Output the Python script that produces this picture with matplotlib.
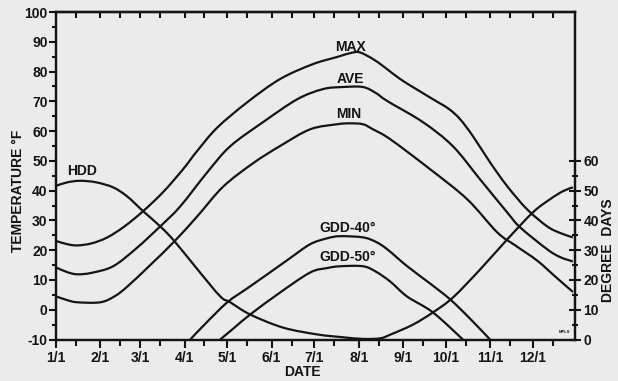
import matplotlib
matplotlib.use("Agg")
import matplotlib.pyplot as plt
from matplotlib.path import Path
from matplotlib.patches import PathPatch

plt.rcParams['font.family'] = ['Liberation Sans', 'DejaVu Sans']
plt.rcParams['font.weight'] = 'bold'

# ---------------- data ----------------
month_days = [0, 31, 59, 90, 120, 151, 181, 212, 243, 273, 304, 334]
month_labels = ['1/1', '2/1', '3/1', '4/1', '5/1', '6/1', '7/1', '8/1', '9/1', '10/1', '11/1', '12/1']
mid_month_days = [14, 45, 73, 104, 134, 165, 195, 226, 257, 287, 318, 348]

max_days = [0, 8, 15, 25, 36, 48, 61, 75, 89, 99, 113, 134, 157, 180, 197, 207, 213, 222, 230, 241, 252, 264, 275, 283, 292, 304, 316, 330, 344, 353, 362]
max_temp = [23.1, 22.0, 21.6, 22.3, 24.3, 28.0, 33.1, 39.5, 47.2, 53.4, 61.2, 69.7, 77.5, 82.5, 84.9, 86.3, 86.4, 84.2, 81.5, 77.5, 74.2, 70.7, 67.5, 64.0, 58.3, 49.5, 41.5, 33.7, 28.0, 25.8, 24.3]

ave_days = [0, 8, 15, 25, 40, 56, 73, 87, 106, 122, 145, 169, 187, 201, 215, 224, 232, 257, 278, 297, 316, 325, 344, 353, 362]
ave_temp = [14.2, 12.6, 11.9, 12.4, 14.6, 20.5, 28.0, 34.7, 46.2, 54.9, 63.0, 70.7, 74.1, 74.8, 74.8, 72.8, 70.1, 63.0, 54.9, 43.8, 32.7, 27.7, 20.3, 17.7, 16.2]

min_days = [0, 8, 15, 31, 41, 50, 66, 83, 99, 117, 138, 157, 178, 197, 206, 215, 222, 234, 262, 288, 309, 322, 337, 350, 362]
min_temp = [4.5, 3.2, 2.5, 2.5, 4.5, 7.8, 15.0, 23.0, 31.4, 41.3, 49.2, 55.0, 60.6, 62.3, 62.6, 62.3, 60.6, 57.3, 47.2, 37.1, 26.0, 21.5, 16.5, 11.0, 6.0]

hdd_days = [0, 8, 17, 28, 40, 50, 61, 73, 83, 99, 115, 122, 136, 159, 183, 200, 215, 227, 234, 250, 264, 278, 297, 316, 334, 346, 355, 362]
hdd_vals = [51.6, 52.8, 53.3, 52.8, 51.1, 48.0, 43.1, 38.0, 33.0, 23.6, 14.5, 12.5, 8.4, 4.0, 1.7, 0.8, 0.2, 0.4, 1.6, 5.0, 9.1, 14.1, 23.5, 33.6, 42.7, 47.1, 49.8, 51.1]

gdd40_days = [94, 105, 120, 134, 148, 163, 178, 190, 199, 215, 224, 232, 246, 262, 276, 290, 304]
gdd40_vals = [0, 5.5, 12.5, 17.2, 21.9, 27.0, 32.0, 34.0, 34.7, 34.3, 32.8, 30.3, 24.6, 18.8, 13.5, 7.0, 0]

gdd50_days = [115, 125, 136, 157, 178, 190, 199, 215, 224, 234, 246, 264, 285]
gdd50_vals = [0, 4.0, 8.4, 15.8, 22.5, 24.0, 24.6, 24.6, 22.8, 19.5, 14.4, 9.1, 0]

left_ticks = [-10, 0, 10, 20, 30, 40, 50, 60, 70, 80, 90, 100]
right_ticks = [0, 10, 20, 30, 40, 50, 60]

# ---------------- figure ----------------
W, H = 618, 381
bg = '#ebebeb'
ink = '#141414'
fig = plt.figure(figsize=(W / 100, H / 100), dpi=100, facecolor=bg)
ax = fig.add_axes([56 / W, 1 - 339.5 / H, (575 - 56) / W, (339.5 - 12) / H])
ax.set_facecolor(bg)
ax.set_xlim(0, 363.5)
ax.set_ylim(-10, 100)

ax2 = ax.twinx()
ax2.set_ylim(0, 110)

lw = 1.6


def smooth_curve(a, xs, ys):
    """Draw a smooth (Catmull-Rom rendered as Bezier) curve through the data points."""
    pts = list(zip(xs, ys))
    verts = [pts[0]]
    codes = [Path.MOVETO]
    n = len(pts)
    for i in range(n - 1):
        p0 = pts[i - 1] if i > 0 else pts[i]
        p1 = pts[i]
        p2 = pts[i + 1]
        p3 = pts[i + 2] if i + 2 < n else pts[i + 1]
        c1 = (p1[0] + (p2[0] - p0[0]) / 6.0, p1[1] + (p2[1] - p0[1]) / 6.0)
        c2 = (p2[0] - (p3[0] - p1[0]) / 6.0, p2[1] - (p3[1] - p1[1]) / 6.0)
        verts += [c1, c2, p2]
        codes += [Path.CURVE4, Path.CURVE4, Path.CURVE4]
    patch = PathPatch(Path(verts, codes), facecolor='none', edgecolor=ink, lw=lw,
                      transform=a.transData, capstyle='butt', joinstyle='round')
    a.add_patch(patch)


smooth_curve(ax, max_days, max_temp)
smooth_curve(ax, ave_days, ave_temp)
smooth_curve(ax, min_days, min_temp)
smooth_curve(ax2, hdd_days, hdd_vals)
smooth_curve(ax2, gdd40_days, gdd40_vals)
smooth_curve(ax2, gdd50_days, gdd50_vals)

for a in (ax, ax2):
    for s in a.spines.values():
        s.set_linewidth(1.6)
        s.set_color(ink)

fs = 10
# x ticks (bottom)
ax.set_xticks(month_days)
ax.set_xticklabels(month_labels, fontsize=fs, fontweight='bold')
ax.set_xticks(mid_month_days, minor=True)
ax.tick_params(axis='x', which='major', direction='out', length=6, width=1.5, pad=2, colors=ink)
ax.tick_params(axis='x', which='minor', direction='out', length=4, width=1.5, colors=ink)

# top ticks (inward)
sec = ax.secondary_xaxis('top')
sec.set_xticks(sorted(month_days[1:] + mid_month_days))
sec.tick_params(direction='in', length=4, width=1.5, labeltop=False, colors=ink)
sec.spines['top'].set_linewidth(1.6)

# left y ticks
ax.set_yticks(left_ticks)
ax.set_yticklabels([str(v) for v in left_ticks], fontsize=fs, fontweight='bold')
ax.set_yticks([v + 5 for v in left_ticks[:-1]], minor=True)
ax.tick_params(axis='y', which='major', direction='out', length=5, width=1.5, pad=1, colors=ink)
ax.tick_params(axis='y', which='minor', direction='out', length=3, width=1.5, colors=ink)

# right y ticks
ax2.set_yticks(right_ticks)
ax2.set_yticklabels([str(v) for v in right_ticks], fontsize=fs, fontweight='bold')
ax2.set_yticks([v + 5 for v in right_ticks[:-1]], minor=True)
ax2.tick_params(axis='y', which='major', direction='inout', length=8, width=1.5, pad=2, colors=ink)
ax2.tick_params(axis='y', which='minor', direction='inout', length=5, width=1.5, colors=ink)

# curve labels
tk = dict(fontsize=fs, fontweight='bold', ha='center', va='center', color=ink)
ax.text(206, 88.2, 'MAX', **tk)
ax.text(206, 77.5, 'AVE', **tk)
ax.text(205, 65.7, 'MIN', **tk)
ax.text(18, 46.5, 'HDD', **tk)
ax.text(204, 27.3, 'GDD-40°', **tk)
ax.text(204, 17.6, 'GDD-50°', **tk)
ax.text(356, -7.6, 'MPLS', fontsize=3, fontweight='bold', ha='center', va='center', color=ink)

# axis titles
fig.text(18 / W, 1 - 191 / H, 'TEMPERATURE °F', rotation=90, ha='center', va='center',
         fontsize=fs, fontweight='bold', color=ink)
fig.text(608 / W, 1 - 250 / H, 'DEGREE  DAYS', rotation=90, ha='center', va='center',
         fontsize=fs, fontweight='bold', color=ink)
fig.text(302 / W, 1 - 372 / H, 'DATE', ha='center', va='center',
         fontsize=fs, fontweight='bold', color=ink)

fig.savefig('out.png', dpi=100, facecolor=bg)
